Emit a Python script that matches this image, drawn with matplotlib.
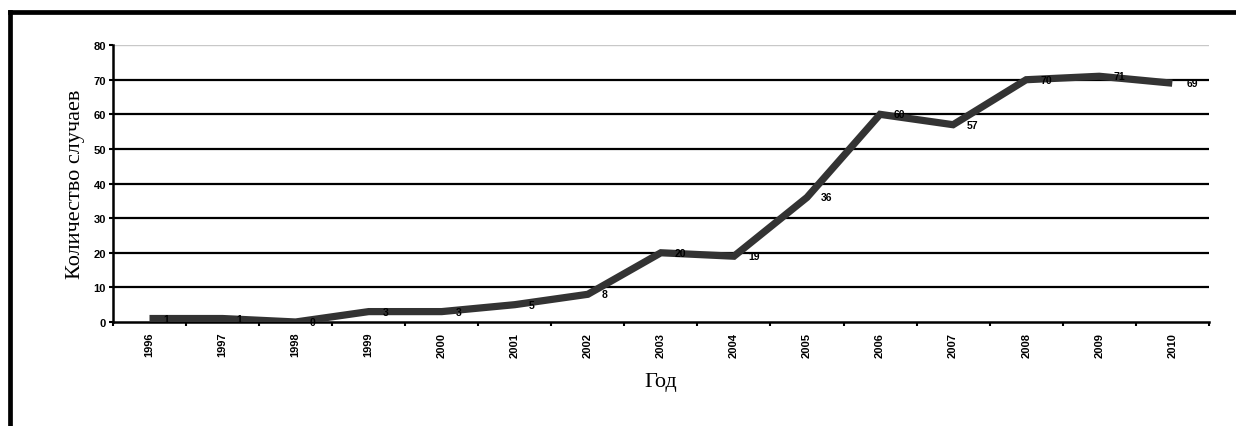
import matplotlib
matplotlib.use('Agg')
import matplotlib.pyplot as plt
from matplotlib.lines import Line2D
import numpy as np

years = ['1996', '1997', '1998', '1999', '2000', '2001', '2002', '2003',
         '2004', '2005', '2006', '2007', '2008', '2009', '2010']
cases = [1, 1, 0, 3, 3, 5, 8, 20, 19, 36, 60, 57, 70, 71, 69]
yticks = [0, 10, 20, 30, 40, 50, 60, 70, 80]

fig = plt.figure(figsize=(12.36, 4.27), dpi=100)
ax = fig.add_axes([0.0914, 0.2436, 0.8866, 0.6484])

x = np.arange(len(years))
ax.set_xlim(-0.5, len(years) - 0.5)
ax.set_ylim(0, 80)

# horizontal grid lines, top one lighter
for v in yticks[1:-1]:
    ax.axhline(v, color='black', lw=1.6, zorder=1)
ax.axhline(80, color='#c8c8c8', lw=1.0, zorder=1)

ax.plot(x, cases, color='#333333', lw=5.2, solid_capstyle='butt',
        solid_joinstyle='miter', zorder=3)

for xi, v in zip(x, cases):
    ax.annotate(str(v), (xi, v), xytext=(14, 0), textcoords='offset pixels',
                ha='left', va='center', fontsize=7.5, fontweight='bold',
                family='Liberation Sans', zorder=4)

for s in ['top', 'right']:
    ax.spines[s].set_visible(False)
ax.spines['left'].set_linewidth(1.8)
ax.spines['bottom'].set_linewidth(1.8)

ax.set_yticks(yticks)
ax.set_yticklabels([str(v) for v in yticks], fontsize=8, fontweight='bold',
                   family='Liberation Sans')
ax.tick_params(axis='y', length=3, width=1.5, pad=2)

ax.set_xticks(x)
ax.set_xticklabels(years, rotation=90, fontsize=8, fontweight='bold',
                   family='Liberation Sans')
ax.set_xticks(np.arange(len(years) + 1) - 0.5, minor=True)
ax.tick_params(axis='x', which='major', length=0, pad=7)
ax.tick_params(axis='x', which='minor', length=3, width=1.5)

ax.set_ylabel('Количество случаев', fontsize=16, family='Liberation Serif',
              labelpad=6)
ax.set_xlabel('Год', fontsize=16, family='Liberation Serif', labelpad=11)

# outer frame around the chart
fig.add_artist(Line2D([9.5 / 1236, 9.5 / 1236], [0, 1 - 13 / 427],
                      transform=fig.transFigure, color='black', lw=3.4,
                      solid_capstyle='projecting'))
fig.add_artist(Line2D([9.5 / 1236, 1], [1 - 13 / 427, 1 - 13 / 427],
                      transform=fig.transFigure, color='black', lw=3.4,
                      solid_capstyle='projecting'))

fig.savefig('out.png', dpi=100)
